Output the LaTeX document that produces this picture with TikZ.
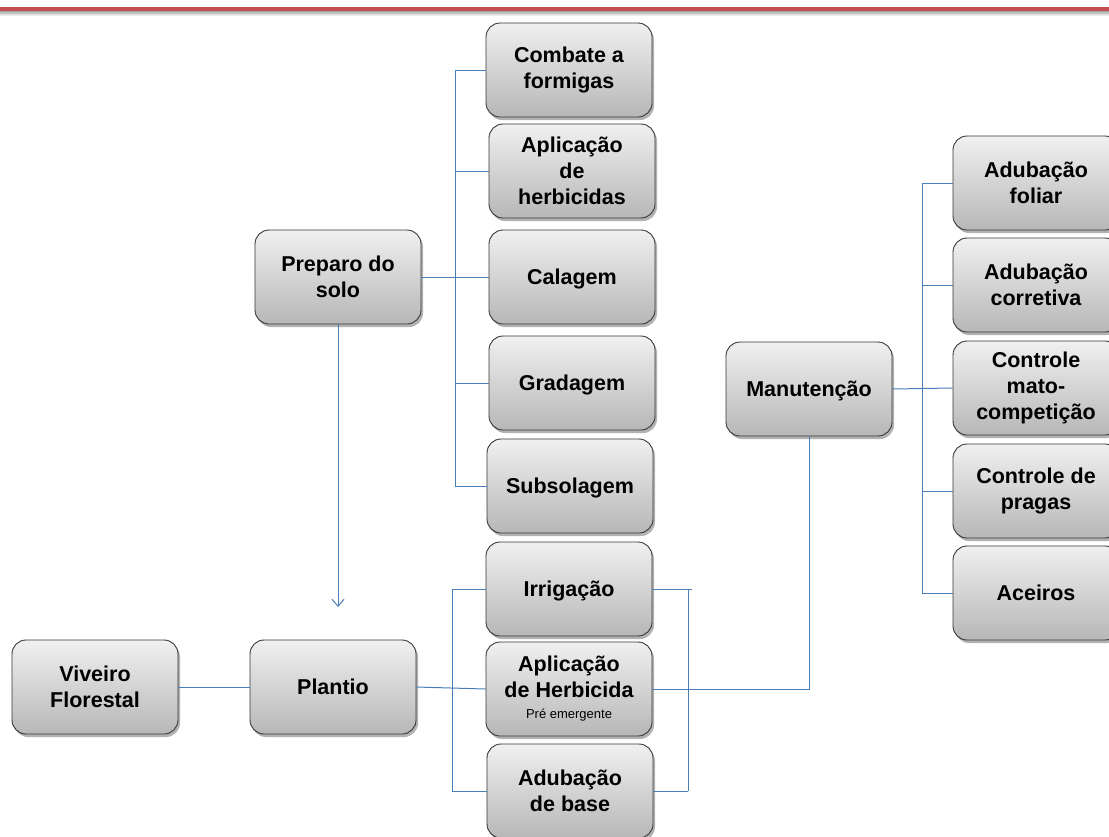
\documentclass[tikz,border=0pt]{standalone}
\usepackage{fontspec}
\setmainfont{Liberation Sans}
\usetikzlibrary{shadows,arrows.meta}
\definecolor{conncol}{RGB}{74,126,187}
\definecolor{boxtop}{RGB}{240,240,240}
\definecolor{boxbot}{RGB}{183,183,183}
\definecolor{boxline}{RGB}{55,55,55}
\definecolor{topred}{RGB}{192,80,77}
\tikzset{
  box/.style={rectangle, rounded corners=14pt, minimum width=166pt, minimum height=94pt,
    draw=boxline, line width=0.9pt, top color=boxtop, bottom color=boxbot,
    drop shadow={shadow xshift=2pt, shadow yshift=-3pt, opacity=0.3, fill=black},
    align=center, inner sep=2pt,
    font=\fontsize{21.5}{26}\selectfont\bfseries},
  oneline/.style={text depth=0pt},
  conn/.style={draw=conncol, line width=1pt}
}
\begin{document}
\begin{tikzpicture}[x=1pt,y=-1pt]
\useasboundingbox (0,0) rectangle (1109,836);
\fill[white] (0,0) rectangle (1109,836);
% top red rule
\shade[top color=black!35, bottom color=white] (0,11) rectangle (1109,16);
\fill[topred] (0,6.5) rectangle (1109,11);

% nodes
\node[box] (comb) at (569,70) {Combate a\\formigas};
\node[box] (aph) at (572,171) {Aplicação\\de\\herbicidas};
\node[box, oneline] (cal) at (572,277) {Calagem};
\node[box, oneline] (grad) at (572,383) {Gradagem};
\node[box, oneline] (sub) at (570,486) {Subsolagem};
\node[box] (prep) at (338,277) {Preparo do\\solo};
\node[box] (viv) at (95,687) {Viveiro\\Florestal};
\node[box, oneline] (plan) at (333,687) {Plantio};
\node[box, oneline] (irr) at (569,589) {Irrigação};
\node[box] (aph2) at (569,689) {Aplicação\\de Herbicida\\[-5pt]{\fontsize{13}{15}\selectfont\mdseries Pré emergente}};
\node[box] (adb) at (570,791) {Adubação\\de base};
\node[box, oneline] (man) at (809,389) {Manutenção};
\node[box] (adf) at (1036,183) {Adubação\\foliar};
\node[box] (adc) at (1036,285) {Adubação\\corretiva};
\node[box] (ctl) at (1036,388) {Controle\\mato-\\competição};
\node[box] (prg) at (1036,491) {Controle de\\pragas};
\node[box, oneline] (ace) at (1036,593) {Aceiros};

% junction coordinates
\coordinate (b1) at (455,277);
\coordinate (b2) at (452,688);
\coordinate (b3) at (688,689);
\coordinate (b4) at (922,389);
\coordinate (arrend) at (338,607);

% Preparo do solo group
\draw[conn] (prep.east) -- (cal.west);
\draw[conn] (comb.west) -| (b1);
\draw[conn] (aph.west) -| (b1);
\draw[conn] (grad.west) -| (b1);
\draw[conn] (sub.west) -| (b1);
\draw[conn, -{Straight Barb[length=7pt,width=12pt]}] (prep.south) -- (arrend);

% Plantio group
\draw[conn] (viv.east) -- (plan.west);
\draw[conn] (plan.east) -- (aph2.west);
\draw[conn] (irr.west) -| (b2);
\draw[conn] (adb.west) -| (b2);
\draw[conn] (irr.east) -- ++(40,0);
\draw[conn] (irr.east -| b3) -- (adb.east -| b3);
\draw[conn] (adb.east) -- (adb.east -| b3);
\draw[conn] (aph2.east) -| (man.south);

% Manutencao group
\draw[conn] (man.east) -- (ctl.west);
\draw[conn] (adf.west) -| (b4);
\draw[conn] (adc.west) -| (b4);
\draw[conn] (prg.west) -| (b4);
\draw[conn] (ace.west) -| (b4);
\end{tikzpicture}
\end{document}
